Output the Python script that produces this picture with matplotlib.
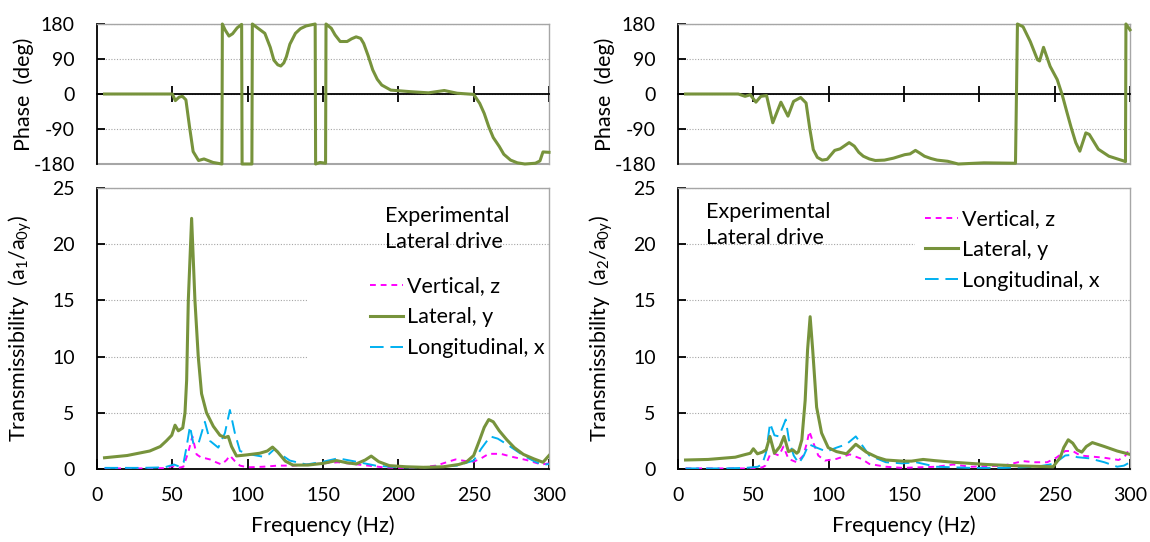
import matplotlib
matplotlib.use("Agg")
import matplotlib.pyplot as plt
from matplotlib.patches import Rectangle
from matplotlib.lines import Line2D

plt.rcParams['font.family'] = ['Lato', 'DejaVu Sans']
plt.rcParams['mathtext.fontset'] = 'custom'
plt.rcParams['mathtext.rm'] = 'Lato'
plt.rcParams['axes.unicode_minus'] = False

# ---------------- data: left (sensor 1) ----------------
L_phase_f = [5, 30, 50, 52, 54.5, 56.7, 59, 61.4, 63.8, 67.4, 71, 77, 82.9, 83.2, 85, 87.6, 90, 93, 96, 96.3,
             100, 102.8, 103.1, 105.5, 111.4, 115, 117.4, 120, 122, 124, 125.7, 128, 131.7, 135, 138.8, 144.8,
             145.1, 148, 151.7, 152, 155.5, 158, 161.4, 166, 169, 172, 175, 177, 180, 183, 186, 189, 195, 208,
             220, 230.5, 239, 250, 254, 257, 260, 263, 267, 270, 274.5, 279, 284, 291, 294, 296, 300]
L_phase = [0, 0, 0, -17, -8, -6, -15, -84, -148, -171, -167, -176, -180, 180, 165, 149, 155, 170, 179, -180,
           -180, -180, 180, 173, 156, 120, 87, 75, 72, 80, 96, 128, 156, 168, 175, 180,
           -180, -176, -178, 180, 169, 152, 135, 135, 142, 147, 143, 130, 98, 62, 38, 23, 10, 6,
           3, 9, 2, -1, -24, -50, -84, -112, -135, -155, -170, -177, -180, -178, -172, -149, -150]

L_lat_f = [5, 20, 35, 42, 46, 49.6, 51.8, 54, 56.9, 58.4, 59.5, 60.6, 62.8, 65, 67.2, 69.4, 72.7, 77.2, 81.6,
           84.9, 87.1, 89.3, 92.6, 99, 108, 113, 116.5, 120, 125, 130, 140, 150, 159, 166, 172, 178, 182, 187,
           194, 205, 217, 230, 240, 245, 250, 254, 257, 260, 263, 267, 272, 277, 283, 290, 296, 300]
L_lat = [1.0, 1.2, 1.6, 2.0, 2.5, 3.0, 3.9, 3.4, 3.65, 5.0, 7.9, 15.0, 22.3, 15.0, 10.0, 6.7, 5.0, 3.8, 3.0,
         2.8, 2.9, 2.0, 1.16, 1.25, 1.4, 1.6, 1.95, 1.5, 0.7, 0.35, 0.35, 0.5, 0.75, 0.55, 0.45, 0.8, 1.15, 0.65,
         0.3, 0.2, 0.15, 0.2, 0.4, 0.6, 1.2, 2.6, 3.7, 4.4, 4.2, 3.4, 2.6, 1.9, 1.3, 0.9, 0.6, 1.2]

L_lon_f = [5, 30, 45, 51, 55, 57.5, 59.5, 61.7, 63.9, 67.2, 71.6, 75, 80.5, 84.9, 88.2, 91.5, 94.9, 101.5, 110,
           114, 118, 122, 128, 139, 150, 160, 172, 185, 200, 217, 239, 250, 255, 261, 266, 272, 283, 290, 296, 300]
L_lon = [0.1, 0.1, 0.15, 0.4, 0.2, 0.6, 2.0, 3.8, 2.3, 2.2, 4.2, 2.5, 1.9, 3.2, 5.25, 3.2, 1.6, 1.3, 1.1,
         1.3, 1.8, 1.3, 0.75, 0.4, 0.65, 0.95, 0.65, 0.3, 0.15, 0.15, 0.3, 0.75, 1.8, 2.9, 2.7, 2.2, 1.2, 0.7,
         0.36, 0.45]

L_ver_f = [5, 30, 45, 50, 54, 57.3, 60.6, 63.3, 66.1, 69.4, 72, 75, 79, 82.7, 86, 88.2, 91.5, 94.9, 100, 110,
           120, 130, 140, 150, 160, 170, 180, 190, 200, 215, 225, 232, 238, 245, 250, 255, 260, 268, 275, 285,
           295, 300]
L_ver = [0.05, 0.05, 0.08, 0.25, 0.1, 0.2, 1.5, 2.9, 1.3, 1.0, 0.95, 0.85, 0.6, 0.4, 0.8, 1.2, 0.7, 0.3, 0.15,
         0.2, 0.3, 0.3, 0.4, 0.5, 0.6, 0.45, 0.3, 0.15, 0.1, 0.15, 0.3, 0.6, 0.85, 0.7, 0.65, 0.95, 1.35, 1.35,
         1.1, 0.8, 0.4, 0.5]

# ---------------- data: right (sensor 2) ----------------
R_phase_f = [5, 40, 44.5, 48, 51.7, 55, 58.8, 62.9, 68.3, 73, 76.7, 81.4, 85, 87.5, 89.8, 92.5, 95.7, 99, 104,
             107.6, 113.6, 117, 120, 123, 127, 131, 137, 143, 150.5, 154, 157.6, 160.5, 163.6, 168, 172, 179,
             186, 203, 224, 225.3, 229, 233.8, 238.6, 240, 242.6, 247, 251.7, 255, 258, 261, 264, 266.7, 270.7,
             273, 279, 286, 295.7, 297, 297.3, 299.3, 300]
R_phase = [0, 0, -6, -2, -21, -6, -4, -74, -21, -57, -19, -9, -23, -90, -143, -163, -170, -168, -145,
           -141, -125, -134, -150, -160, -167, -171, -170, -165, -156, -154, -145, -152, -160, -166, -170, -173,
           -180, -177, -178, 180, 173, 135, 88, 85, 120, 71, 37, -2, -45, -87, -125, -147, -100,
           -104, -142, -160, -172, -174, 180, 169, 165]

R_lat_f = [5, 20, 38, 45, 48, 50, 52.7, 56, 58.5, 61, 64, 67.7, 70.4, 73.3, 76.2, 78.8, 80, 82.2, 84.4, 86,
           87.7, 89.4, 92, 95.3, 99.7, 105.2, 111.8, 118, 125, 132, 138, 149, 155, 162.7, 170, 182.7, 205, 227,
           249, 253.8, 256, 259, 262, 265, 268, 271, 275, 283, 291.5, 300]
R_lat = [0.8, 0.85, 1.05, 1.3, 1.4, 1.8, 1.35, 1.5, 1.7, 2.9, 1.4, 2.0, 2.9, 1.55, 1.7, 1.4, 1.55, 2.6, 6.1,
         10.6, 13.55, 10.6, 5.5, 3.2, 1.9, 1.55, 1.35, 2.2, 1.5, 1.05, 0.8, 0.7, 0.7, 0.85, 0.75, 0.6, 0.4,
         0.27, 0.2, 1.05, 1.9, 2.6, 2.3, 1.7, 1.5, 2.0, 2.35, 2.0, 1.6, 1.3]

R_lon_f = [5, 30, 45, 49, 53, 56, 58.5, 61.1, 64, 67, 71.5, 73.6, 76.8, 80.2, 83.5, 86.8, 92, 98.6, 105.2,
           111.8, 118, 122.8, 127, 138, 149, 158, 171.5, 194, 216, 238, 249, 253, 257, 261, 265, 273, 283,
           291.5, 296, 300]
R_lon = [0.05, 0.05, 0.1, 0.15, 0.2, 0.45, 1.5, 4.07, 3.0, 2.9, 4.4, 2.6, 1.2, 0.5, 1.2, 2.2, 1.9, 1.55, 1.9,
         2.2, 2.9, 2.0, 1.2, 0.6, 0.5, 0.6, 0.2, 0.1, 0.1, 0.2, 0.45, 0.8, 1.2, 1.25, 1.05, 0.95, 0.6, 0.2,
         0.3, 0.6]

R_ver_f = [5, 30, 45, 52, 56, 58, 61.5, 63.3, 67, 70, 73.3, 78.8, 83.2, 85.5, 87.2, 89.9, 93.1, 97.5, 105.2,
           114, 121.8, 127, 138, 149, 160, 171.5, 182.7, 194, 216, 229, 237, 245, 251, 257, 262, 267, 275, 283,
           292.5, 297, 300]
R_ver = [0.05, 0.05, 0.05, 0.1, 0.15, 0.3, 1.4, 1.4, 1.2, 2.0, 0.9, 0.6, 1.2, 2.3, 3.35, 2.3, 1.2, 0.75, 0.9,
         1.3, 0.9, 0.45, 0.2, 0.1, 0.15, 0.2, 0.4, 0.2, 0.3, 0.7, 0.6, 0.6, 1.0, 1.6, 1.6, 1.2, 1.1, 1.0, 0.8,
         1.2, 1.9]

phase_ticks = [-180, -90, 0, 90, 180]
trans_ticks = [0, 5, 10, 15, 20, 25]
freq_ticks = [0, 50, 100, 150, 200, 250, 300]
series_labels = ['Vertical, z', 'Lateral, y', 'Longitudinal, x']
trans_ylabels = [r'Transmissibility  (a$_\mathregular{1}$/a$_\mathregular{0y}$)',
                 r'Transmissibility  (a$_\mathregular{2}$/a$_\mathregular{0y}$)']

GREEN = '#77933C'
MAGENTA = '#FF00FF'
BLUE = '#00B0F0'
GRAY = '#A6A6A6'
FS_TICK = 14
FS = 15.5

W, H = 1150, 542
fig = plt.figure(figsize=(W / 100, H / 100), dpi=100)


def frac(x0, y0, x1, y1):
    return [x0 / W, 1 - y1 / H, (x1 - x0) / W, (y1 - y0) / H]


def style_common(ax):
    ax.set_axisbelow(True)
    for s in ['top', 'right']:
        ax.spines[s].set_color(GRAY)
        ax.spines[s].set_linewidth(1.0)
    ax.spines['left'].set_color('black')
    ax.spines['left'].set_linewidth(1.3)
    ax.yaxis.grid(True, color=GRAY, linestyle=(0, (1, 1.5)), linewidth=0.8)
    ax.tick_params(axis='y', direction='in', length=6, width=1.3, labelsize=FS_TICK, pad=16)


def phase_panel(px0, f, ph):
    ax = fig.add_axes(frac(px0, 24, px0 + 452, 164))
    ax.set_xlim(0, 300)
    ax.set_ylim(-180, 180)
    style_common(ax)
    ax.spines['bottom'].set_position(('data', 0))
    ax.spines['bottom'].set_color('black')
    ax.spines['bottom'].set_linewidth(1.3)
    ax.axhline(-180, color=GRAY, lw=1.5, zorder=0.8, clip_on=False)
    ax.set_xticks(freq_ticks[1:])
    ax.tick_params(axis='x', direction='inout', length=12, width=1.3, labelbottom=False)
    ax.set_yticks(phase_ticks)
    ax.plot(f, ph, color=GREEN, lw=2.2, zorder=3, clip_on=False)
    ax.set_ylabel('Phase  (deg)', fontsize=FS)
    ax.yaxis.set_label_coords(-0.14, 0.5)
    return ax


def trans_panel(px0, data, ylabel, rect, txt_xy, leg_xy):
    ax = fig.add_axes(frac(px0, 188, px0 + 452, 469))
    ax.set_xlim(0, 300)
    ax.set_ylim(0, 25)
    style_common(ax)
    ax.spines['bottom'].set_color('black')
    ax.spines['bottom'].set_linewidth(1.3)
    ax.set_xticks(freq_ticks)
    ax.tick_params(axis='x', direction='in', length=7, width=1.3, labelsize=FS_TICK, pad=13)
    ax.set_yticks(trans_ticks)
    ax.add_patch(Rectangle((rect[0], rect[1]), rect[2], rect[3], transform=ax.transAxes,
                           facecolor='white', edgecolor='none', zorder=1))
    (fv, vv), (fl, vl), (fx, vx) = data
    ax.plot(fv, vv, color=MAGENTA, lw=1.4, linestyle=(0, (3, 2.5)), zorder=3)
    ax.plot(fx, vx, color=BLUE, lw=1.4, linestyle=(0, (7, 3.5)), zorder=3)
    ax.plot(fl, vl, color=GREEN, lw=2.2, zorder=4)
    ax.set_ylabel(ylabel, fontsize=FS)
    ax.yaxis.set_label_coords(-0.14, 0.5)
    ax.set_xlabel('Frequency (Hz)', fontsize=FS, labelpad=8)
    ax.text(txt_xy[0], txt_xy[1], 'Experimental\nLateral drive', transform=ax.transAxes,
            fontsize=FS, ha='left', va='top', linespacing=1.35, zorder=5)
    handles = [Line2D([], [], color=MAGENTA, lw=1.4, linestyle=(0, (3, 2.5))),
               Line2D([], [], color=GREEN, lw=2.2),
               Line2D([], [], color=BLUE, lw=1.4, linestyle=(0, (7, 3.5)))]
    ax.legend(handles, series_labels, loc='upper left', bbox_to_anchor=leg_xy, frameon=False,
              fontsize=FS, handlelength=1.55, handletextpad=0.2, labelspacing=0.5, borderpad=0,
              borderaxespad=0)
    return ax


phase_panel(97, L_phase_f, L_phase)
phase_panel(678, R_phase_f, R_phase)

trans_panel(97, [(L_ver_f, L_ver), (L_lat_f, L_lat), (L_lon_f, L_lon)], trans_ylabels[0],
            (0.465, 0.33, 0.535, 0.37), (0.637, 0.935), (0.603, 0.685))
trans_panel(678, [(R_ver_f, R_ver), (R_lat_f, R_lat), (R_lon_f, R_lon)], trans_ylabels[1],
            (0.524, 0.64, 0.476, 0.35), (0.062, 0.95), (0.546, 0.925))

fig.savefig('out.png', dpi=100)
